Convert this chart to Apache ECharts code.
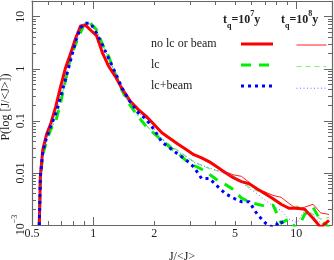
<!DOCTYPE html>
<html><head><meta charset="utf-8">
<script src="https://cdn.jsdelivr.net/npm/echarts@6/dist/echarts.min.js"></script>
<style>html,body{margin:0;padding:0;background:#fff}#c{width:334px;height:260px}</style>
</head><body><div id="c"></div>
<script>
// J/<J> sample positions
const jRatio = [0.543, 0.55, 0.565, 0.59, 0.62, 0.655, 0.69, 0.73, 0.775, 0.82, 0.867, 0.917, 0.97, 1.04, 1.11, 1.19, 1.29, 1.39, 1.52, 1.67, 1.82, 1.99, 2.18, 2.39, 2.61, 2.86, 3.13, 3.42, 3.74, 4.10, 4.48, 4.9, 5.37, 5.87, 6.43, 7.03, 7.69, 8.42, 9.21, 10.1, 11.0, 12.1, 13.2, 14.5];
// t_q = 1e7 y
const noLc1e7 = [0.001, 0.009, 0.028, 0.055, 0.091, 0.19, 0.44, 1.02, 1.98, 3.86, 6.6, 6.9, 5.55, 4.3, 2.05, 1.13, 0.7, 0.41, 0.241, 0.164, 0.123, 0.086, 0.059, 0.046, 0.036, 0.0285, 0.0224, 0.0194, 0.0163, 0.0129, 0.0101, 0.0081, 0.0068, 0.0062, 0.0049, 0.0040, 0.0032, 0.0025, 0.0021, 0.0021, 0.0020, 0.00135, 0.0009, 0.00123];
const lc1e7 = [0.001, 0.008, 0.022, 0.042, 0.07, 0.10, 0.215, 0.58, 1.70, 2.96, 5.0, 8.0, 7.5, 5.6, 2.98, 1.75, 0.77, 0.377, 0.2, 0.12, 0.079, 0.058, 0.042, 0.031, 0.024, 0.0175, 0.0139, 0.0118, 0.0094, 0.0072, 0.006, 0.0048, 0.0033, 0.0028, 0.0025, 0.0023, 0.0024, 0.0011, 0.0013, 0.0008, 0.0016, 0.0022, 0.0012, 0.0009];
const lcBeam1e7 = [0.001, 0.0085, 0.025, 0.048, 0.08, 0.14, 0.28, 0.61, 1.47, 3.4, 6.15, 7.5, 7.5, 4.85, 2.9, 1.6, 0.815, 0.42, 0.232, 0.143, 0.108, 0.069, 0.039, 0.03, 0.023, 0.018, 0.013, 0.0078, 0.0078, 0.0055, 0.004, 0.0033, 0.0028, 0.0028, 0.0016, 0.0011, 0.0009, 0.0012, 0.0006, null, null, null, null, null];
// t_q = 1e8 y
const noLc1e8 = [0.001, 0.0095, 0.03, 0.058, 0.095, 0.2, 0.46, 1.05, 2.1, 4.2, 6.3, 7.1, 5.7, 4.1, 2.1, 1.15, 0.67, 0.42, 0.245, 0.16, 0.12, 0.084, 0.06, 0.047, 0.037, 0.029, 0.023, 0.019, 0.0155, 0.0125, 0.0105, 0.0092, 0.0086, 0.0066, 0.0047, 0.0043, 0.0037, 0.0034, 0.0026, 0.0020, 0.0022, 0.0025, 0.0017, 0.0016];
const lc1e8 = [0.001, 0.0085, 0.023, 0.044, 0.072, 0.105, 0.22, 0.6, 1.75, 3.1, 5.2, 7.8, 7.2, 5.4, 2.9, 1.7, 0.76, 0.38, 0.205, 0.125, 0.082, 0.06, 0.045, 0.034, 0.027, 0.021, 0.0165, 0.014, 0.012, 0.011, 0.0098, 0.0088, 0.0068, 0.0053, 0.0045, 0.0038, 0.0033, 0.0026, 0.0021, 0.0023, 0.0021, 0.0016, 0.0013, 0.0014];
const lcBeam1e8 = [0.001, 0.009, 0.026, 0.05, 0.082, 0.15, 0.29, 0.63, 1.5, 3.5, 6.3, 7.6, 7.3, 4.9, 2.9, 1.6, 0.8, 0.42, 0.235, 0.145, 0.108, 0.07, 0.045, 0.034, 0.026, 0.021, 0.016, 0.014, 0.0125, 0.011, 0.0095, 0.0085, 0.0068, 0.005, 0.004, 0.003, 0.0023, 0.0019, 0.0013, 0.0011, 0.0019, 0.0015, 0.0011, 0.0008];

const legendNames = ['no lc or beam', 'lc', 'lc+beam'];
const xLabelValues = [0.5, 1, 2, 5, 10];
const xMajorTicks = [1, 10];
const xMinorTicks = [0.6, 0.7, 0.8, 0.9, 2, 3, 4, 5, 6, 7, 8, 9];
const yLabelValues = [0.001, 0.01, 0.1, 1, 10];
const yLabelTexts = ['{b|10}{s|\u22123}', '0.01', '0.1', '1', '10'];
const yMinorTicks = [0.002,0.003,0.004,0.005,0.006,0.007,0.008,0.009,0.02,0.03,0.04,0.05,0.06,0.07,0.08,0.09,0.2,0.3,0.4,0.5,0.6,0.7,0.8,0.9,2,3,4,5,6,7,8,9];

const FONT = 'Liberation Serif';
const AX = '#666';
const TXT = '#222';
const X_MIN = 0.5, X_MAX = 15, Y_MIN = 0.001, Y_MAX = 20;

function xAxisDef(pos, ticks, len, showLine, labels) {
  return {
    type: 'log', min: X_MIN, max: X_MAX, position: pos,
    axisLine: {show: showLine, lineStyle: {color: AX, width: 1.2}},
    axisTick: {show: true, inside: true, length: len, customValues: ticks, lineStyle: {color: AX, width: 1}},
    axisLabel: labels ? {show: true, customValues: xLabelValues, margin: 3,
      formatter: v => String(Number(Number(v).toPrecision(3))),
      fontFamily: FONT, fontSize: 12, color: TXT} : {show: false},
    splitLine: {show: false}, minorTick: {show: false}
  };
}
function yAxisDef(pos, ticks, len, showLine, labels) {
  return {
    type: 'log', min: Y_MIN, max: Y_MAX, position: pos,
    axisLine: {show: showLine, lineStyle: {color: AX, width: 1.2}},
    axisTick: {show: true, inside: true, length: len, customValues: ticks, lineStyle: {color: AX, width: 1}},
    axisLabel: labels ? {show: true, customValues: yLabelValues, rotate: 90, margin: 5,
      formatter: v => { const i = yLabelValues.findIndex(t => Math.abs(Math.log10(t) - Math.log10(v)) < 1e-6); return i >= 0 ? yLabelTexts[i] : ''; },
      fontFamily: FONT, fontSize: 12, color: TXT,
      rich: {b: {fontFamily: FONT, fontSize: 12, color: TXT, verticalAlign: 'bottom', lineHeight: 16},
             s: {fontFamily: FONT, fontSize: 8, color: TXT, verticalAlign: 'top', lineHeight: 16}}} : {show: false},
    splitLine: {show: false}, minorTick: {show: false}
  };
}

const xAxes = [xAxisDef('bottom', xMajorTicks, 8, true, true), xAxisDef('bottom', xMinorTicks, 4, false, false),
               xAxisDef('top', xMajorTicks, 8, true, false), xAxisDef('top', xMinorTicks, 4, false, false)];
Object.assign(xAxes[0], {name: 'J/<J>', nameLocation: 'middle', nameGap: 26,
  nameTextStyle: {fontFamily: FONT, fontSize: 12, color: TXT}});
const yAxes = [yAxisDef('left', yLabelValues, 8, true, true), yAxisDef('left', yMinorTicks, 4, false, false),
               yAxisDef('right', yLabelValues, 8, true, false), yAxisDef('right', yMinorTicks, 4, false, false)];
Object.assign(yAxes[0], {name: 'P(log [J/<J>])', nameLocation: 'middle', nameGap: 20, nameMoveOverlap: false,
  nameTextStyle: {fontFamily: FONT, fontSize: 12, color: TXT, padding: [0, 0, 0, 12]}});

function mk(name, ys, color, width, type, z) {
  return {
    name, type: 'line', xAxisIndex: 0, yAxisIndex: 0, symbol: 'none', showSymbol: false,
    data: jRatio.map((x, i) => [x, ys[i]]), connectNulls: false, clip: true, z,
    lineStyle: {color, width, type, cap: 'butt', join: 'round'}, itemStyle: {color}, animation: false
  };
}
const tqRich = {
  t: {fontFamily: FONT, fontSize: 12, color: TXT, lineHeight: 20, verticalAlign: 'middle'},
  sub: {fontFamily: FONT, fontSize: 8, color: TXT, lineHeight: 20, verticalAlign: 'bottom'},
  sup: {fontFamily: FONT, fontSize: 8, color: TXT, lineHeight: 20, verticalAlign: 'top'}
};

const option = {
  animation: false,
  backgroundColor: '#fff',
  grid: {left: 32, right: 2, top: 1, bottom: 35, containLabel: false, outerBoundsMode: 'none'},
  title: [
    {text: '{t|t}{sub|q}{t|=10}{sup|7}{t|y}', left: 223, top: 10, padding: 0, textStyle: {rich: tqRich}},
    {text: '{t|t}{sub|q}{t|=10}{sup|8}{t|y}', left: 281, top: 10, padding: 0, textStyle: {rich: tqRich}}
  ],
  legend: [
    {data: legendNames, orient: 'vertical', left: 151, top: 38, align: 'right', padding: 0,
     itemWidth: 32, itemHeight: 14, itemGap: 9, selectedMode: false,
     formatter: n => '{a|' + n + '}',
     textStyle: {fontFamily: FONT, fontSize: 12, color: TXT,
       rich: {a: {fontFamily: FONT, fontSize: 12, color: TXT, width: 85, align: 'left'}}},
     lineStyle: {width: 3}, itemStyle: {opacity: 0}},
    {data: legendNames.map(n => n + ' (1e8)'), orient: 'vertical', left: 296, top: 38, align: 'left', padding: 0,
     itemWidth: 30, itemHeight: 14, itemGap: 9, selectedMode: false, formatter: () => '',
     textStyle: {fontSize: 12}, lineStyle: {width: 1}, itemStyle: {opacity: 0}}
  ],
  xAxis: xAxes,
  yAxis: yAxes,
  series: [
    mk('no lc or beam', noLc1e7, '#ff0000', 3, 'solid', 6),
    mk('no lc or beam (1e8)', noLc1e8, '#ff2020', 1, 'solid', 5),
    mk('lc', lc1e7, '#00ee00', 3, [10, 8], 4),
    mk('lc (1e8)', lc1e8, '#70f070', 1.2, [5, 4], 3),
    mk('lc+beam', lcBeam1e7, '#0000ff', 3, [3, 4], 8),
    mk('lc+beam (1e8)', lcBeam1e8, '#6a6aff', 1, [1, 2.5], 7)
  ]
};
const chart = echarts.init(document.getElementById('c'), null, {renderer: 'canvas'});
chart.setOption(option);
</script></body></html>
